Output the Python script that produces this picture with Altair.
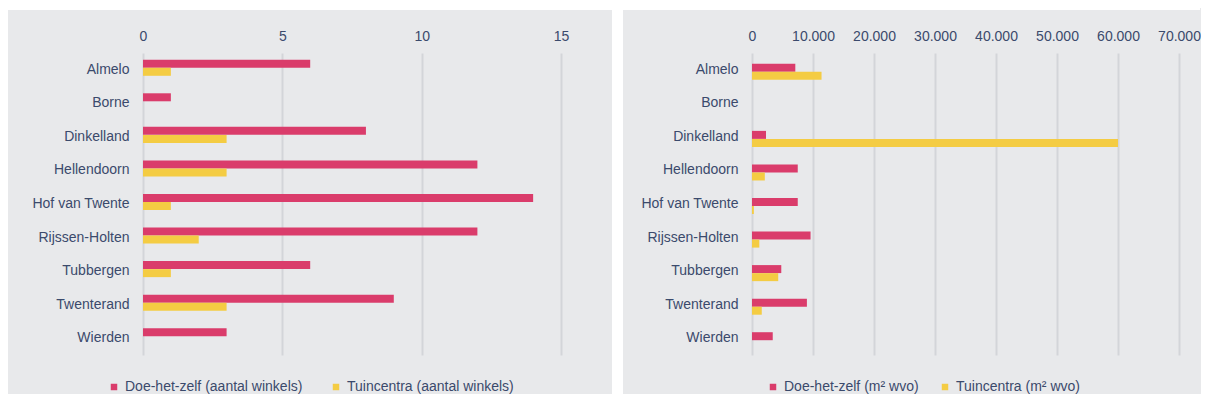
import altair as alt
import pandas as pd

gemeenten = ["Almelo", "Borne", "Dinkelland", "Hellendoorn", "Hof van Twente",
             "Rijssen-Holten", "Tubbergen", "Twenterand", "Wierden"]
dhz_aantal = [6, 1, 8, 12, 14, 12, 6, 9, 3]
tuin_aantal = [1, 0, 3, 3, 1, 2, 1, 3, 0]
dhz_m2 = [7100, 0, 2300, 7500, 7500, 9600, 4800, 9000, 3400]
tuin_m2 = [11400, 0, 60000, 2100, 300, 1200, 4300, 1600, 0]
series_aantal = ["Doe-het-zelf (aantal winkels)", "Tuincentra (aantal winkels)"]
series_m2 = ["Doe-het-zelf (m² wvo)", "Tuincentra (m² wvo)"]
ticks_aantal = [0, 5, 10, 15]
ticks_m2 = [0, 10000, 20000, 30000, 40000, 50000, 60000, 70000]

COLORS = ["#DA3C6B", "#F4CC43"]
BG = "#E8E9EB"
TXT = "#3B4A6C"
GRID = "#D3D5D9"
FONT = "Liberation Sans"
BOTTOM = 341


def long_df(v1, v2, names):
    rows = []
    for g, a, b in zip(gemeenten, v1, v2):
        rows.append({"gemeente": g, "serie": names[0], "waarde": a})
        rows.append({"gemeente": g, "serie": names[1], "waarde": b})
    return pd.DataFrame(rows)


def panel(df, names, domain, ticks, width, legend_x, col_pad,
          frame_left, frame_right, gap=None, label_expr=None):
    axis_kw = dict(orient="top", values=ticks, title=None, grid=True,
                   gridColor=GRID, gridWidth=2, domain=False, ticks=False,
                   labelFontSize=14, labelColor=TXT, labelFont=FONT,
                   labelPadding=10, labelOverlap=False, labelFlush=False)
    if label_expr:
        axis_kw["labelExpr"] = label_expr
    bars = alt.Chart(df).mark_bar(size=8).encode(
        x=alt.X("waarde:Q", scale=alt.Scale(domain=domain, nice=False, zero=True),
                axis=alt.Axis(**axis_kw)),
        y=alt.Y("gemeente:N", sort=gemeenten,
                scale=alt.Scale(paddingInner=0.52, paddingOuter=0.26),
                axis=alt.Axis(title=None, domain=False, ticks=False, grid=False,
                              labelFontSize=14, labelColor=TXT, labelFont=FONT,
                              labelPadding=14, labelLimit=300)),
        yOffset=alt.YOffset("serie:N", sort=names,
                            scale=alt.Scale(paddingInner=0, paddingOuter=0)),
        color=alt.Color("serie:N", sort=names,
                        scale=alt.Scale(domain=names, range=COLORS),
                        legend=alt.Legend(title=None, orient="none",
                                          legendX=legend_x, legendY=327,
                                          direction="horizontal",
                                          symbolType="square", symbolSize=42,
                                          symbolStrokeWidth=0,
                                          labelFontSize=14, labelColor=TXT,
                                          labelFont=FONT, labelOffset=4,
                                          labelLimit=400,
                                          columnPadding=col_pad, padding=0)),
    )
    one = pd.DataFrame({"k": [0]})
    frame = alt.Chart(one).mark_rect(fill="white", fillOpacity=0).encode(
        x=alt.value(frame_left), x2=alt.value(frame_right),
        y=alt.value(-45), y2=alt.value(BOTTOM))
    top_strip = alt.Chart(one).mark_rect(fill="white").encode(
        x=alt.value(frame_left), x2=alt.value(frame_right),
        y=alt.value(-45), y2=alt.value(-43))
    layers = [frame, top_strip]
    if gap is not None:
        layers.append(alt.Chart(one).mark_rect(fill="white").encode(
            x=alt.value(gap[0]), x2=alt.value(gap[1]),
            y=alt.value(-45), y2=alt.value(BOTTOM)))
    layers.append(bars)
    return alt.layer(*layers).properties(width=width, height=302)


left = panel(long_df(dhz_aantal, tuin_aantal, series_aantal), series_aantal,
             [0, 15], ticks_aantal, 418, legend_x=-36, col_pad=26,
             frame_left=8 - 143, frame_right=612 - 143)
right = panel(long_df(dhz_m2, tuin_m2, series_m2), series_m2,
              [0, 70000], ticks_m2, 427, legend_x=14, col_pad=19,
              frame_left=612 - 752, frame_right=1200 - 752,
              gap=(612 - 752, 623 - 752),
              label_expr="replace(format(datum.value, ','), ',', '.')")

chart = alt.hconcat(left, right, spacing=0).resolve_scale(
    color="independent", x="independent", y="independent"
).resolve_legend(color="independent").configure(
    background=BG, padding=0
).configure_view(stroke=None)

chart.save("out.html", embed_options={"renderer": "svg", "actions": False})
